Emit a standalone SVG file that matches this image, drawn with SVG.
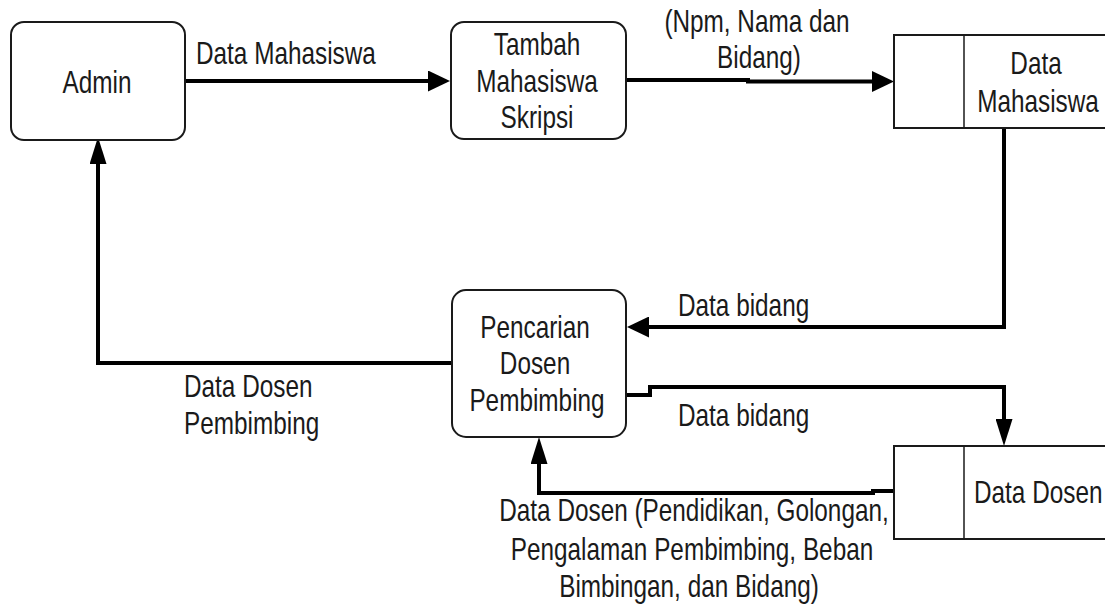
<svg xmlns="http://www.w3.org/2000/svg" width="1105" height="607" viewBox="0 0 1105 607">
  <style>
    .box { fill: #ffffff; stroke: #1a1a1a; stroke-width: 2; }
    .store { fill: none; stroke: #1a1a1a; stroke-width: 2; }
    .div { fill: none; stroke: #1a1a1a; stroke-width: 1.5; }
    .flow { fill: none; stroke: #000000; stroke-width: 4; stroke-linejoin: miter; }
    .t { font-family: "Liberation Sans", Arial, sans-serif; font-size: 31px; fill: #1a1a1a; }
    .c { text-anchor: middle; }
  </style>
  <defs>
    <!-- horizontal and vertical arrowheads (drawing is slightly narrower horizontally) -->
    <marker id="ah" markerUnits="userSpaceOnUse" markerWidth="22" markerHeight="21" refX="8" refY="10.5" orient="auto">
      <path d="M0,0 L22,10.5 L0,21 z" fill="#000"/>
    </marker>
    <marker id="av" markerUnits="userSpaceOnUse" markerWidth="27" markerHeight="17" refX="9" refY="8.5" orient="auto">
      <path d="M0,0 L27,8.5 L0,17 z" fill="#000"/>
    </marker>
  </defs>

  <rect width="1105" height="607" fill="#ffffff"/>

  <!-- data flows -->
  <g id="connectors">
    <path class="flow" d="M185,81 H436" marker-end="url(#ah)"/>
    <path class="flow" d="M626,80 H748 V81.5 H880" marker-end="url(#ah)"/>
    <path class="flow" d="M1004,128 V327 H641" marker-end="url(#ah)"/>
    <path class="flow" d="M452,363 H98 V155" marker-end="url(#av)"/>
    <path class="flow" d="M626,395 H650 V387 H1004 V428" marker-end="url(#av)"/>
    <path class="flow" d="M894,491 H873 V493 H539 V455" marker-end="url(#av)"/>

    <text class="t" transform="translate(196,64) scale(0.785,1)">Data Mahasiswa</text>
    <text class="t c" transform="translate(757,32) scale(0.785,1)">(Npm, Nama dan</text>
    <text class="t c" transform="translate(759,68) scale(0.785,1)">Bidang)</text>
    <text class="t" transform="translate(678,316) scale(0.785,1)">Data bidang</text>
    <text class="t" transform="translate(678,426) scale(0.785,1)">Data bidang</text>
    <text class="t" transform="translate(184,397) scale(0.785,1)">Data Dosen</text>
    <text class="t" transform="translate(184,434) scale(0.785,1)">Pembimbing</text>
    <text class="t c" transform="translate(694,521) scale(0.785,1)">Data Dosen (Pendidikan, Golongan,</text>
    <text class="t c" transform="translate(692,560) scale(0.785,1)">Pengalaman Pembimbing, Beban</text>
    <text class="t c" transform="translate(689,597) scale(0.785,1)">Bimbingan, dan Bidang)</text>
  </g>

  <!-- external entity -->
  <g id="admin">
    <rect class="box" x="11" y="22" width="174" height="118" rx="13"/>
    <text class="t c" transform="translate(97,93) scale(0.785,1)">Admin</text>
  </g>

  <!-- processes -->
  <g id="tambah-mahasiswa">
    <rect class="box" x="451" y="22" width="175" height="117" rx="13"/>
    <text class="t c" transform="translate(537,55) scale(0.785,1)">Tambah</text>
    <text class="t c" transform="translate(537,92) scale(0.785,1)">Mahasiswa</text>
    <text class="t c" transform="translate(537,128) scale(0.785,1)">Skripsi</text>
  </g>

  <g id="pencarian-dosen">
    <rect class="box" x="452" y="290" width="174" height="147" rx="14"/>
    <text class="t c" transform="translate(535,338) scale(0.785,1)">Pencarian</text>
    <text class="t c" transform="translate(535,374) scale(0.785,1)">Dosen</text>
    <text class="t c" transform="translate(537,411) scale(0.785,1)">Pembimbing</text>
  </g>

  <!-- data stores -->
  <g id="data-mahasiswa">
    <path class="store" d="M1107,35 H894 V128 H1107"/>
    <path class="div" d="M964,35 V128"/>
    <text class="t c" transform="translate(1036,74) scale(0.785,1)">Data</text>
    <text class="t c" transform="translate(1038,112) scale(0.785,1)">Mahasiswa</text>
  </g>

  <g id="data-dosen">
    <path class="store" d="M1107,446 H894 V539 H1107"/>
    <path class="div" d="M964,446 V539"/>
    <text class="t" transform="translate(974,503) scale(0.785,1)">Data Dosen</text>
  </g>
</svg>
